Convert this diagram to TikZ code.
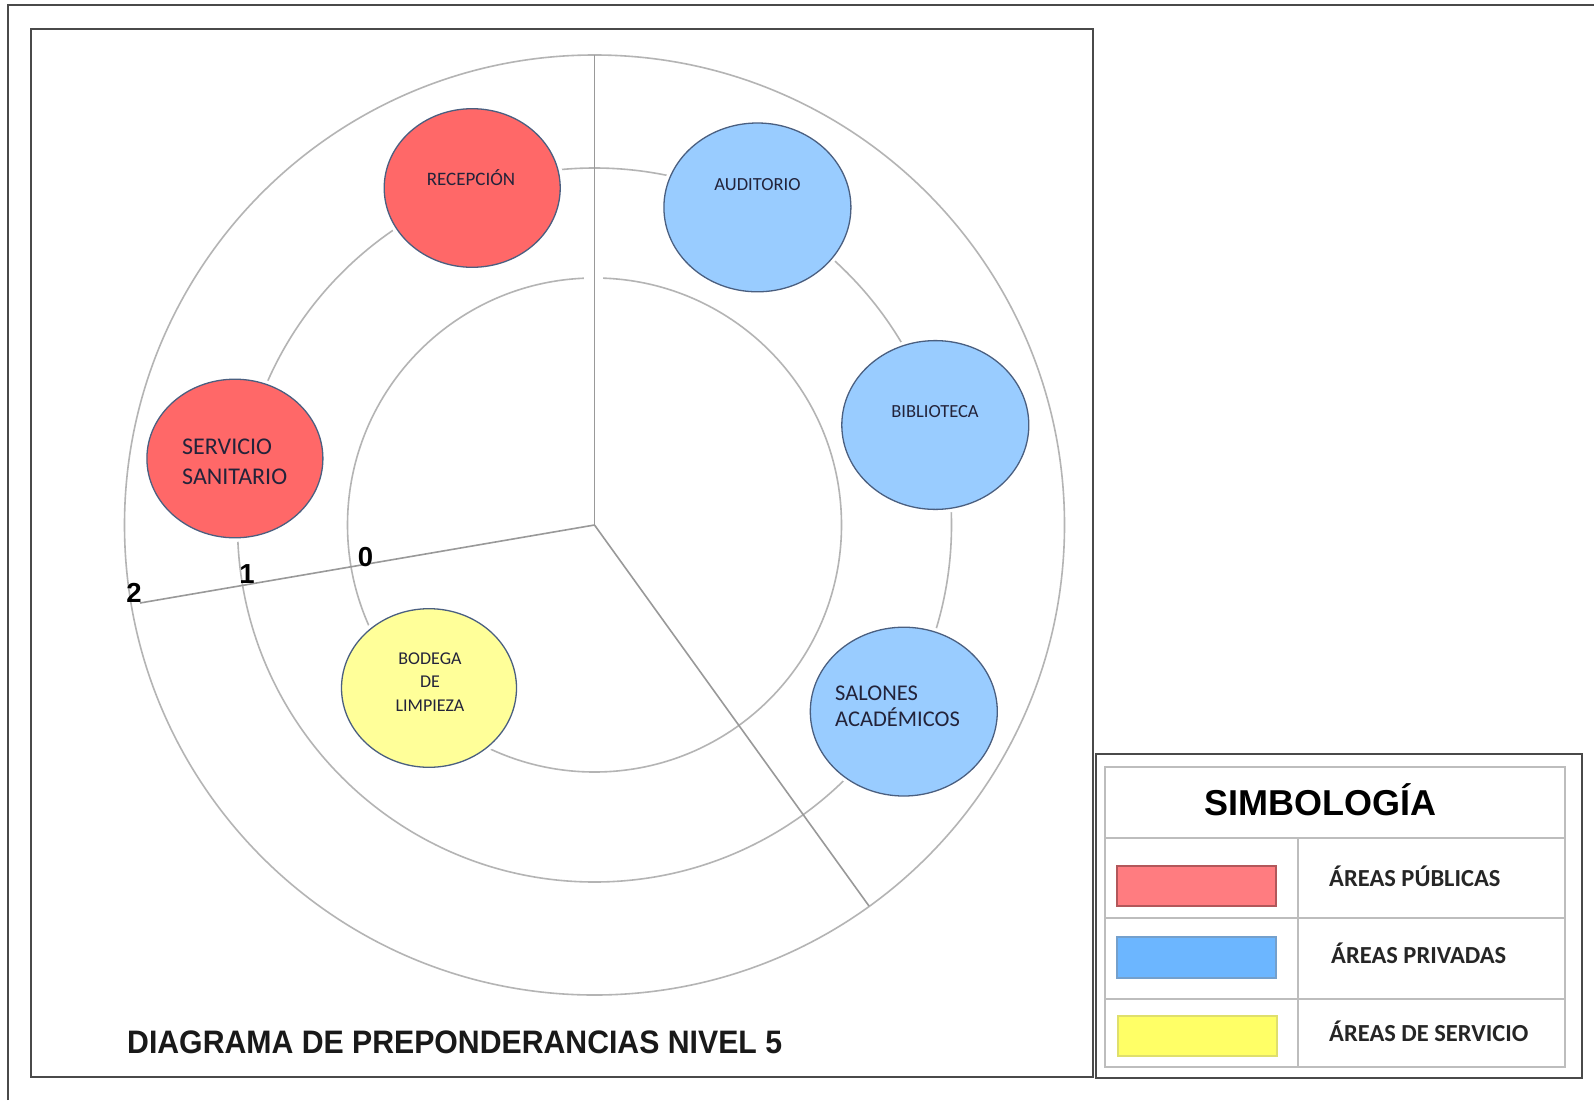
\documentclass[tikz,border=0pt]{standalone}
\usepackage{graphicx}
\usepackage{fontspec}
\setmainfont{Carlito}
\newfontfamily\arialf{Liberation Sans}
\usetikzlibrary{shapes.geometric}
\definecolor{ringgray}{HTML}{B4B4B4}
\definecolor{framegray}{HTML}{4A4A4A}
\definecolor{tblgray}{HTML}{BDBDBD}
\definecolor{edgeblue}{HTML}{4A5F80}
\definecolor{pubred}{HTML}{FF6868}
\definecolor{privblue}{HTML}{99CCFF}
\definecolor{servyellow}{HTML}{FFFF99}
\definecolor{swred}{HTML}{FF7C80}
\definecolor{swblue}{HTML}{6CB6FF}
\definecolor{swyellow}{HTML}{FFFF66}
\definecolor{txtdark}{HTML}{23233A}
\begin{document}
\begin{tikzpicture}[x=1pt,y=-1pt,
  frame/.style={draw=framegray, line width=2.6pt},
  ring/.style={draw=ringgray, line width=1.6pt},
  radial/.style={draw=ringgray!85!black, line width=1.6pt},
  area/.style={ellipse, draw=edgeblue, line width=1.3pt, inner sep=0pt,
    preaction={draw=white, line width=8pt}},
  pub/.style={area, fill=pubred, minimum width=176pt, minimum height=158.6pt},
  priv/.style={area, fill=privblue, minimum width=187pt, minimum height=168.8pt},
  serv/.style={area, fill=servyellow, minimum width=175pt, minimum height=158.6pt},
  lbl/.style={inner sep=0pt, text=txtdark},
  digit/.style={inner sep=0pt, anchor=base, font=\arialf\bfseries\fontsize{27.5}{30}\selectfont},
  tbl/.style={draw=tblgray, line width=1.8pt},
  legtxt/.style={inner sep=0pt, anchor=base west, text=black!85, font=\bfseries\fontsize{24.5}{28}\selectfont},
  swatch/.style={line width=1.4pt}
]
\useasboundingbox (0,0) rectangle (1594,1100);
\fill[white] (0,0) rectangle (1594,1100);

% outer and inner frames
\draw[frame] (8,1100) -- (8,5) -- (1594,5);
\draw[frame] (31,29) rectangle (1093,1077);

% rings
\coordinate (c) at (594.5,525);
\draw[ring] (c) circle[radius=247];
\draw[ring] (c) circle[radius=357];
\draw[ring] (c) circle[radius=470];
\fill[white] (584,271) rectangle (603,284);

% radial lines
\coordinate (ctop) at (594.5,55);
\coordinate (cleft) at (140,603);
\coordinate (cright) at (869,906);
\draw[radial] (c) -- (ctop);
\draw[radial] (c) -- (cleft);
\draw[radial] (c) -- (cright);

% areas
\node[pub]  (rec) at (472.2,188) {};
\node[pub]  (ser) at (234.9,458.5) {};
\node[priv] (aud) at (757.4,207.4) {};
\node[priv] (bib) at (935.3,425) {};
\node[priv] (sal) at (903.8,711.6) {};
\node[serv] (bod) at (429,688) {};

% area labels (base anchor = last line baseline)
\node[lbl, anchor=base, font=\fontsize{19}{23}\selectfont] (trec) at (471,185) {RECEPCIÓN};
\node[lbl, anchor=base, font=\fontsize{18.5}{23}\selectfont] (taud) at (757.5,190.7) {AUDITORIO};
\node[lbl, anchor=base, font=\fontsize{18.5}{23}\selectfont] (tbib) at (935,417) {BIBLIOTECA};
\node[lbl, anchor=base west, align=left, font=\fontsize{22.5}{25.5}\selectfont] (tsal) at (835,726) {SALONES\\ACADÉMICOS};
\node[lbl, anchor=base west, align=left, font=\fontsize{24}{30}\selectfont] (tser) at (182,484) {SERVICIO\\SANITARIO};
\node[lbl, anchor=base, align=center, font=\fontsize{18}{23.5}\selectfont] (tbod) at (430,711) {BODEGA\\DE\\LIMPIEZA};

% level numbers
\node[digit] (d0) at (365.5,566) {0};
\node[digit] (d1) at (247,583) {1};
\node[digit] (d2) at (134,602) {2};

% title
\node[inner sep=0pt, anchor=base west, text=black!90, font=\arialf\bfseries\fontsize{32.5}{36}\selectfont] (title) at (127,1053)
  {\scalebox{0.93}[1]{DIAGRAMA DE PREPONDERANCIAS NIVEL 5}};

% legend
\draw[frame] (1096,754) rectangle (1582,1078);
\draw[tbl] (1105,767) rectangle (1565,1067);
\draw[tbl] (1105,838) -- (1565,838);
\draw[tbl] (1105,918) -- (1565,918);
\draw[tbl] (1105,999) -- (1565,999);
\draw[tbl] (1298,838) -- (1298,1067);
\node[inner sep=0pt, anchor=base, font=\arialf\bfseries\fontsize{36}{40}\selectfont] (simb) at (1320.5,815) {SIMBOLOGÍA};
\draw[swatch, fill=swred, draw=swred!70!black] (1117,866) rectangle (1276,906);
\draw[swatch, fill=swblue, draw=swblue!60!gray] (1117,937) rectangle (1276,978);
\draw[swatch, fill=swyellow, draw=swyellow!75!gray] (1118,1016) rectangle (1277,1056);
\node[legtxt] (lpub) at (1329,886.7) {ÁREAS PÚBLICAS};
\node[legtxt] (lpriv) at (1331,963) {ÁREAS PRIVADAS};
\node[legtxt] (lserv) at (1329,1041) {ÁREAS DE SERVICIO};
\end{tikzpicture}
\end{document}
